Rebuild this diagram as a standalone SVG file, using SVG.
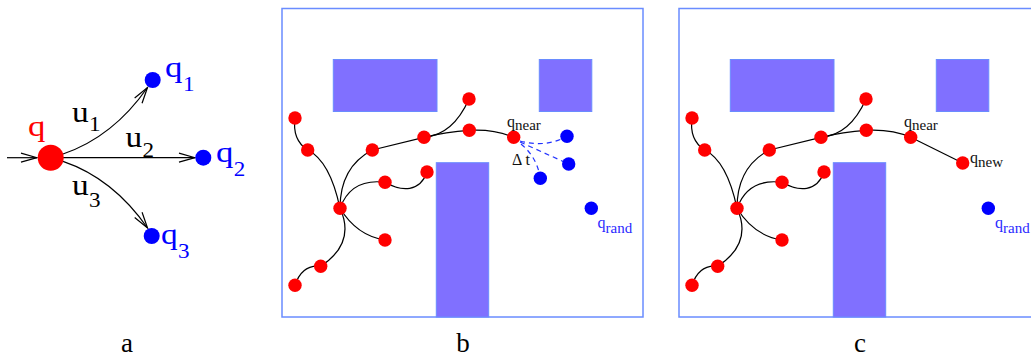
<svg xmlns="http://www.w3.org/2000/svg" width="1031" height="358" viewBox="0 0 1031 358">
<style>
text{font-family:"Liberation Serif",serif}
.edge{fill:none;stroke:#000;stroke-width:1.2}
.arr{fill:none;stroke:#000;stroke-width:1.2}
.red{fill:#ff0000}
.blue{fill:#0000ff}
.frame{fill:none;stroke:#6a8cff;stroke-width:1.5}
.obs{fill:#8070ff;stroke:#6a8cff;stroke-width:1}
.dash{fill:none;stroke:#2233ff;stroke-width:1.2;stroke-dasharray:5 4}
.lbl{font-size:16px;fill:#111}
.sub{font-size:15px}
.blbl{fill:#2a2aff}
.big{font-size:29px}
.bsub{font-size:21px}
.cap{font-size:27px;fill:#000}
</style>
<defs>
<marker id="v" markerUnits="userSpaceOnUse" markerWidth="20" markerHeight="12" viewBox="-18 -6 20 12" refX="0" refY="0" orient="auto">
<path d="M-16,-4.5 L0,0 L-16,4.5" fill="none" stroke="#000" stroke-width="1.2"/>
</marker>
</defs>

<!-- Panel a -->
<g id="panel-a">
<g id="a-connectors">
<path class="arr" d="M7,157.7 L37,157.7" marker-end="url(#v)"/>
<path class="arr" d="M63,154 Q113,137 147.5,87.5" marker-end="url(#v)"/>
<path class="arr" d="M63,157.7 L195,157.7" marker-end="url(#v)"/>
<path class="arr" d="M63,161.4 Q113,178.4 147.5,228" marker-end="url(#v)"/>
</g>
<g id="a-q"><circle class="red" cx="50.7" cy="157.7" r="13"/><text class="big" transform="translate(28,136) scale(1.2,1)" fill="#ff0000">q</text></g>
<g id="a-q1"><circle class="blue" cx="152.7" cy="80" r="8"/><text class="big" transform="translate(165,77) scale(1.2,1)" fill="#0000ff">q</text><text class="bsub" transform="translate(183,90.7) scale(1.1,1)" fill="#0000ff">1</text></g>
<g id="a-q2"><circle class="blue" cx="203.3" cy="157.7" r="8"/><text class="big" transform="translate(216,162) scale(1.2,1)" fill="#0000ff">q</text><text class="bsub" transform="translate(233.8,176) scale(1.1,1)" fill="#0000ff">2</text></g>
<g id="a-q3"><circle class="blue" cx="151.7" cy="236" r="8"/><text class="big" transform="translate(161,243.5) scale(1.15,1)" fill="#0000ff">q</text><text class="bsub" transform="translate(178,257.5) scale(1.1,1)" fill="#0000ff">3</text></g>
<g id="a-labels">
<text class="big" transform="translate(72,121.7) scale(1.15,1)" fill="#000">u</text><text class="bsub" transform="translate(89,130.7) scale(1.1,1)" fill="#000">1</text>
<text class="big" transform="translate(125.5,147) scale(1.15,1)" fill="#000">u</text><text class="bsub" transform="translate(142.5,156.5) scale(1.1,1)" fill="#000">2</text>
<text class="big" transform="translate(72,195) scale(1.15,1)" fill="#000">u</text><text class="bsub" transform="translate(89,206.5) scale(1.1,1)" fill="#000">3</text>
</g>
</g>

<!-- Panel b -->
<g id="panel-b">
<rect class="frame" x="282" y="8.5" width="361" height="308.5"/>
<rect class="obs" x="333.3" y="59.5" width="103.7" height="52"/>
<rect class="obs" x="539.3" y="59.5" width="52.5" height="52"/>
<rect class="obs" x="436.3" y="162.7" width="52.4" height="154.3"/>
<g id="b-connectors">
<path class="edge" d="M295,118 Q292,140 307.7,150"/>
<path class="edge" d="M307.7,150 Q330,161 340,208.3"/>
<path class="edge" d="M340,208.3 Q340,167 372.3,150"/>
<path class="edge" d="M372.3,150 L424,137.3"/>
<path class="edge" d="M424,137.3 Q453,135 469,99"/>
<path class="edge" d="M424,137.3 Q446,132 469.3,130.3"/>
<path class="edge" d="M469.3,130.3 Q495,129 513.7,137.3"/>
<path class="edge" d="M340,208.3 Q351,178 385,182.3"/>
<path class="edge" d="M385,182.3 C402,192 420,192 427,172"/>
<path class="edge" d="M340,208.3 Q357,236 385,240"/>
<path class="edge" d="M340,208.3 Q356,243 320.7,266.3"/>
<path class="edge" d="M320.7,266.3 Q302,264 295,285.3"/>
<path class="dash" d="M520,141 Q546,148 567,136.3"/>
<path class="dash" d="M520,142 L568.7,164"/>
<path class="dash" d="M521,144 Q537,157 540.3,178.3"/>
</g>
<g id="b-n1"><circle class="red" cx="295" cy="118" r="6.7"/></g>
<g id="b-n2"><circle class="red" cx="307.7" cy="150" r="6.7"/></g>
<g id="b-n3"><circle class="red" cx="372.3" cy="150" r="6.7"/></g>
<g id="b-n4"><circle class="red" cx="424" cy="137.3" r="6.7"/></g>
<g id="b-n5"><circle class="red" cx="469" cy="99" r="6.7"/></g>
<g id="b-n6"><circle class="red" cx="469.3" cy="130.3" r="6.7"/></g>
<g id="b-qnear"><circle class="red" cx="513.7" cy="137.3" r="6.7"/><text class="lbl" x="507" y="126.7">q<tspan class="sub" x="515" y="130">near</tspan></text></g>
<g id="b-n8"><circle class="red" cx="385" cy="182.3" r="6.7"/></g>
<g id="b-n9"><circle class="red" cx="427" cy="172" r="6.7"/></g>
<g id="b-root"><circle class="red" cx="340" cy="208.3" r="6.7"/></g>
<g id="b-n10"><circle class="red" cx="385" cy="240" r="6.7"/></g>
<g id="b-n11"><circle class="red" cx="320.7" cy="266.3" r="6.7"/></g>
<g id="b-n12"><circle class="red" cx="295" cy="285.3" r="6.7"/></g>
<g id="b-u1"><circle class="blue" cx="567" cy="136.3" r="6.7"/></g>
<g id="b-u2"><circle class="blue" cx="568.7" cy="164" r="6.7"/></g>
<g id="b-u3"><circle class="blue" cx="540.3" cy="178.3" r="6.7"/></g>
<g id="b-dt"><text class="lbl" x="512" y="165" font-size="17">Δ t</text></g>
<g id="b-qrand"><circle class="blue" cx="591.3" cy="208.3" r="6.7"/><text class="lbl blbl" x="597.5" y="228">q<tspan class="sub" x="605.5" y="232.5">rand</tspan></text></g>
</g>

<!-- Panel c -->
<g id="panel-c">
<rect class="frame" x="679" y="8.5" width="361" height="308.5"/>
<rect class="obs" x="730.3" y="59.5" width="103.7" height="52"/>
<rect class="obs" x="936.3" y="59.5" width="52.5" height="52"/>
<rect class="obs" x="833.3" y="162.7" width="52.4" height="154.3"/>
<g id="c-connectors" transform="translate(397,0)">
<path class="edge" d="M295,118 Q292,140 307.7,150"/>
<path class="edge" d="M307.7,150 Q330,161 340,208.3"/>
<path class="edge" d="M340,208.3 Q340,167 372.3,150"/>
<path class="edge" d="M372.3,150 L424,137.3"/>
<path class="edge" d="M424,137.3 Q453,135 469,99"/>
<path class="edge" d="M424,137.3 Q446,132 469.3,130.3"/>
<path class="edge" d="M469.3,130.3 Q495,129 513.7,137.3"/>
<path class="edge" d="M340,208.3 Q351,178 385,182.3"/>
<path class="edge" d="M385,182.3 C402,192 420,192 427,172"/>
<path class="edge" d="M340,208.3 Q357,236 385,240"/>
<path class="edge" d="M340,208.3 Q356,243 320.7,266.3"/>
<path class="edge" d="M320.7,266.3 Q302,264 295,285.3"/>
<path class="edge" d="M513.7,137.3 L565.7,163"/>
</g>
<g id="c-n1"><circle class="red" cx="692" cy="118" r="6.7"/></g>
<g id="c-n2"><circle class="red" cx="704.7" cy="150" r="6.7"/></g>
<g id="c-n3"><circle class="red" cx="769.3" cy="150" r="6.7"/></g>
<g id="c-n4"><circle class="red" cx="821" cy="137.3" r="6.7"/></g>
<g id="c-n5"><circle class="red" cx="866" cy="99" r="6.7"/></g>
<g id="c-n6"><circle class="red" cx="866.3" cy="130.3" r="6.7"/></g>
<g id="c-qnear"><circle class="red" cx="910.7" cy="137.3" r="6.7"/><text class="lbl" x="904" y="126.7">q<tspan class="sub" x="912" y="130">near</tspan></text></g>
<g id="c-n8"><circle class="red" cx="782" cy="182.3" r="6.7"/></g>
<g id="c-n9"><circle class="red" cx="824" cy="172" r="6.7"/></g>
<g id="c-root"><circle class="red" cx="737" cy="208.3" r="6.7"/></g>
<g id="c-n10"><circle class="red" cx="782" cy="240" r="6.7"/></g>
<g id="c-n11"><circle class="red" cx="717.7" cy="266.3" r="6.7"/></g>
<g id="c-n12"><circle class="red" cx="692" cy="285.3" r="6.7"/></g>
<g id="c-qnew"><circle class="red" cx="962.7" cy="163" r="6.7"/><text class="lbl" x="970" y="163">q<tspan class="sub" x="978" y="166.5">new</tspan></text></g>
<g id="c-qrand"><circle class="blue" cx="988.3" cy="208.3" r="6.7"/><text class="lbl blbl" x="995" y="228">q<tspan class="sub" x="1003" y="232.5">rand</tspan></text></g>
</g>

<g id="captions">
<text class="cap" x="127" y="352" text-anchor="middle">a</text>
<text class="cap" x="463" y="352" text-anchor="middle">b</text>
<text class="cap" x="860" y="352" text-anchor="middle">c</text>
</g>
</svg>
